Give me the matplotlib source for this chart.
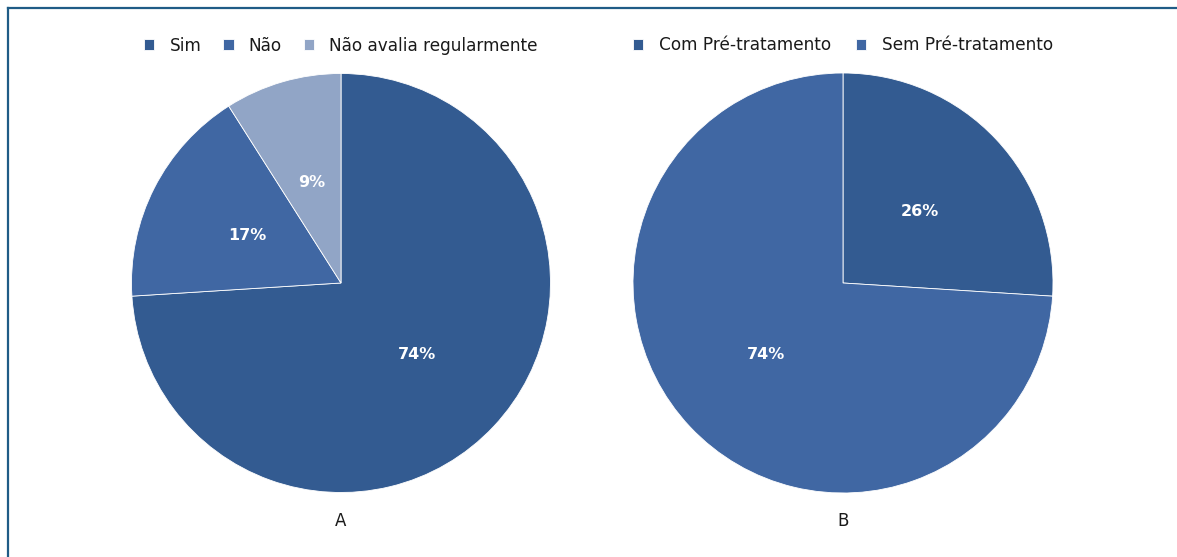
import matplotlib
matplotlib.use("Agg")
import matplotlib.pyplot as plt
from matplotlib.lines import Line2D

labels_a = ["Sim", "Não", "Não avalia regularmente"]
values_a = [74, 17, 9]
labels_b = ["Com Pré-tratamento", "Sem Pré-tratamento"]
values_b = [26, 74]

c_dark = "#335b91"
c_mid = "#4067a3"
c_light = "#91a5c6"

W, H = 1177, 557
fig = plt.figure(figsize=(W / 100, H / 100), dpi=100)
fig.patch.set_facecolor("white")

def box(cx, cy, r):
    return [(cx - r) / W, (H - cy - r) / H, 2 * r / W, 2 * r / H]

axA = fig.add_axes(box(341, 283, 209.5))
axB = fig.add_axes(box(843, 283, 210))

def draw(ax, vals, labels, colors, title, legend_y, colsp):
    wedges, _, autot = ax.pie(vals, colors=colors, startangle=90, counterclock=False,
                              radius=1, autopct=lambda p: f"{p:.0f}%", pctdistance=0.5,
                              wedgeprops=dict(edgecolor="white", linewidth=0.6),
                              textprops=dict(color="white", fontsize=11.5, fontweight="bold"))
    ax.set_xlim(-1, 1)
    ax.set_ylim(-1, 1)
    ax.set_aspect("auto")
    ax.axis("off")
    ax.text(0, -1.135, title, ha="center", va="center", fontsize=12, color="#1a1a1a")
    leg = ax.legend(wedges, labels, loc="center", bbox_to_anchor=(0.5, legend_y), ncol=len(labels),
                    frameon=False, handlelength=0.6, handleheight=0.6, handletextpad=0.9,
                    columnspacing=colsp, fontsize=12.2)
    for t in leg.get_texts():
        t.set_color("#1a1a1a")

draw(axA, values_a, labels_a, [c_dark, c_mid, c_light], "A", 1.066, 1.3)
draw(axB, values_b, labels_b, [c_dark, c_mid], "B", 1.066, 1.5)

fc = "#1f5c86"
fig.add_artist(Line2D([7.5 / W, 7.5 / W], [0, 1 - 8 / H], color=fc, lw=1.6, transform=fig.transFigure))
fig.add_artist(Line2D([7.5 / W, 1], [1 - 8 / H, 1 - 8 / H], color=fc, lw=1.6, transform=fig.transFigure))

fig.savefig("out.png", dpi=100)
